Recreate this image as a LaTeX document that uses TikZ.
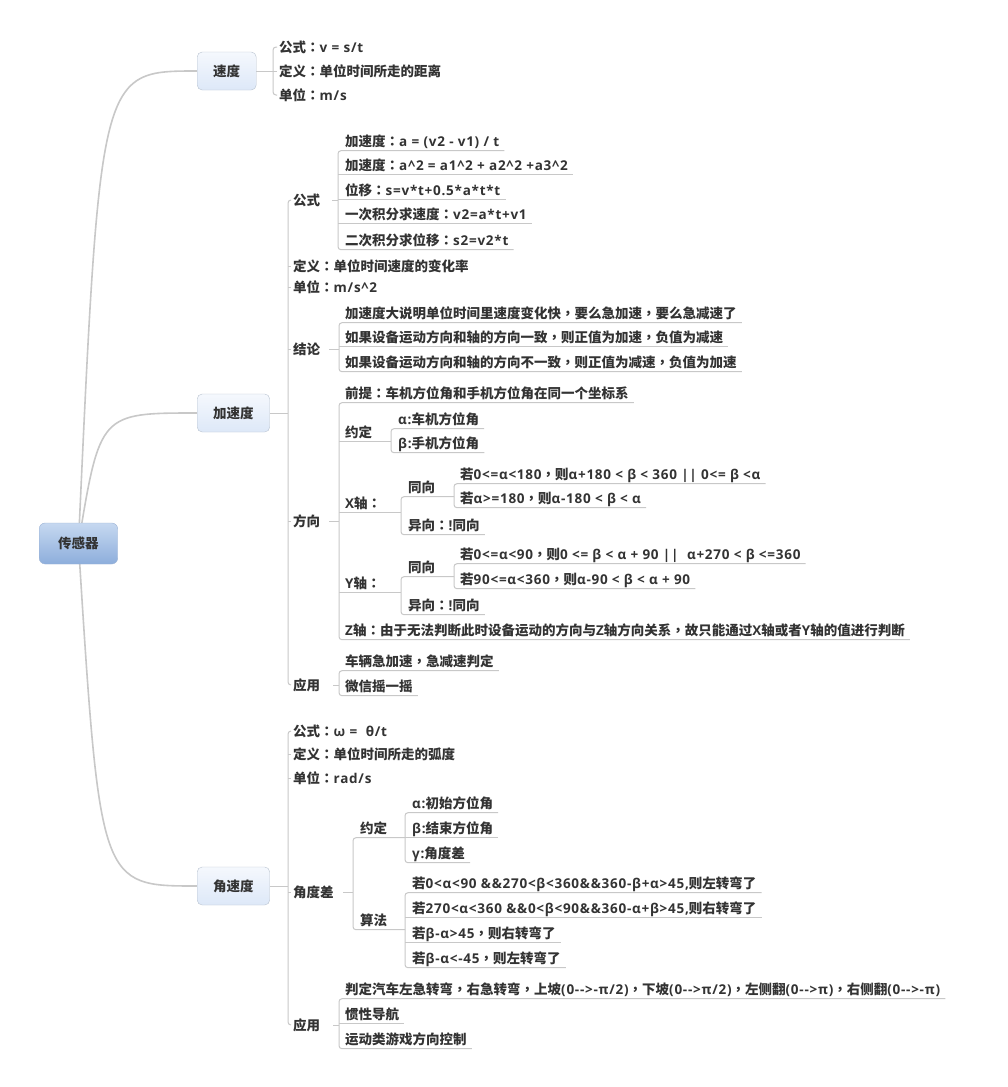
\documentclass[tikz,border=0pt]{standalone}
\usepackage{fontspec}
\newfontfamily\cjkf{Noto Sans CJK SC}
\newfontfamily\puncf{Noto Sans CJK TC}
\newfontfamily\latf[LetterSpace=5.5]{Open Sans}
\XeTeXinterchartokenstate=1
\newXeTeXintercharclass\puncclass
\newXeTeXintercharclass\hanclass
\newcount\hancnt
\hancnt="4E00
\loop
  \XeTeXcharclass\hancnt=\hanclass
  \advance\hancnt by 1
\ifnum\hancnt<"A000 \repeat
\XeTeXcharclass"FF1A=\puncclass
\XeTeXcharclass"FF0C=\puncclass
\XeTeXinterchartoks 0 \hanclass = {\cjkf}
\XeTeXinterchartoks 4095 \hanclass = {\cjkf}
\XeTeXinterchartoks \puncclass \hanclass = {\cjkf}
\XeTeXinterchartoks \hanclass 0 = {\latf}
\XeTeXinterchartoks \puncclass 0 = {\latf}
\XeTeXinterchartoks 4095 0 = {\latf}
\XeTeXinterchartoks 0 \puncclass = {\puncf}
\XeTeXinterchartoks \hanclass \puncclass = {\puncf}
\usetikzlibrary{calc,backgrounds}
\definecolor{txtc}{HTML}{333333}
\definecolor{linec}{HTML}{C8C8C8}
\definecolor{rootborder}{HTML}{9DB4D6}
\definecolor{roottop}{HTML}{C6D8F0}
\definecolor{rootbot}{HTML}{8DAEDC}
\definecolor{topborder}{HTML}{B9C3D0}
\definecolor{toptop}{HTML}{F5F8FD}
\definecolor{topbot}{HTML}{DDE8F8}
\begin{document}
\begin{tikzpicture}[x=1pt,y=-1pt,
  mfont/.style={font=\latf\bfseries\fontsize{13.5}{16}\selectfont},
  conn/.style={draw=linec, line width=1pt},
  bconn/.style={conn, rounded corners=3pt},
  maincurve/.style={draw=linec, line width=1.6pt},
  txt/.style={mfont, anchor=west, inner xsep=0pt, inner ysep=1.5pt, text height=13pt, text depth=3pt, text=txtc},
  rootbox/.style={mfont, anchor=west, rounded corners=6pt, draw=rootborder, top color=roottop, bottom color=rootbot, inner xsep=19pt, minimum height=41pt, text height=13pt, text depth=3pt, text=txtc},
  topicbox/.style={mfont, anchor=west, rounded corners=5pt, draw=topborder, top color=toptop, bottom color=topbot, inner xsep=16pt, minimum height=38pt, text height=13pt, text depth=3pt, text=txtc}
]
\useasboundingbox (0,0) rectangle (1007,1087);

% bracket x positions
\coordinate (B1) at (273,0);
\coordinate (B2) at (288,0);
\coordinate (B3) at (338,0);
\coordinate (B4) at (339,0);
\coordinate (B5) at (391,0);
\coordinate (B6) at (401,0);
\coordinate (B7) at (454,0);
\coordinate (B8) at (353,0);
\coordinate (B9) at (405,0);

% main topics
\node[rootbox] (root) at (39,543.5) {传感器};
\node[topicbox] (s1) at (197,71) {速度};
\node[topicbox] (s2) at (197,413) {加速度};
\node[topicbox] (s3) at (197,886) {角速度};

% 速度
\node[txt] (a1) at (279,47) {公式：v = s/t};
\node[txt] (a2) at (279,71) {定义：单位时间所走的距离};
\node[txt] (a3) at (279,95) {单位：m/s};

% 加速度
\node[txt] (b1) at (293,200) {公式};
\node[txt] (b2) at (293,266) {定义：单位时间速度的变化率};
\node[txt] (b3) at (293,287) {单位：m/s\textasciicircum 2};
\node[txt] (b4) at (293,349) {结论};
\node[txt] (b5) at (293,521) {方向};
\node[txt] (b6) at (293,685) {应用};

\node[txt] (f1) at (345,141) {加速度：a = (v2 - v1) / t};
\node[txt] (f2) at (345,165) {加速度：a\textasciicircum 2 = a1\textasciicircum 2 + a2\textasciicircum 2 +a3\textasciicircum 2};
\node[txt] (f3) at (345,190) {位移：s=v*t+0.5*a*t*t};
\node[txt] (f4) at (345,214) {一次积分求速度：v2=a*t+v1};
\node[txt] (f5) at (345,240) {二次积分求位移：s2=v2*t};

\node[txt] (g1) at (345,313) {加速度大说明单位时间里速度变化快，要么急加速，要么急减速了};
\node[txt] (g2) at (345,337) {如果设备运动方向和轴的方向一致，则正值为加速，负值为减速};
\node[txt] (g3) at (345,362) {如果设备运动方向和轴的方向不一致，则正值为减速，负值为加速};

\node[txt] (h1) at (345,393) {前提：车机方位角和手机方位角在同一个坐标系};
\node[txt] (h2) at (345,432) {约定};
\node[txt] (h3) at (345,503) {X轴：};
\node[txt] (h4) at (345,583) {Y轴：};
\node[txt] (h5) at (345,630) {Z轴：由于无法判断此时设备运动的方向与Z轴方向关系，故只能通过X轴或者Y轴的值进行判断};

\node[txt] (i1) at (398,419) {α:车机方位角};
\node[txt] (i2) at (398,443) {β:手机方位角};

\node[txt] (j1) at (408,487) {同向};
\node[txt] (j2) at (408,525) {异向：!同向};
\node[txt] (k1) at (460,474) {若0<=α<180，则α+180 < β < 360 || 0<= β <α};
\node[txt] (k2) at (460,498) {若α>=180，则α-180 < β < α};

\node[txt] (j3) at (408,567) {同向};
\node[txt] (j4) at (408,605) {异向：!同向};
\node[txt] (k3) at (460,554) {若0<=α<90，则0 <= β < α + 90 || \ α+270 < β <=360};
\node[txt] (k4) at (460,579) {若90<=α<360，则α-90 < β < α + 90};

\node[txt] (l1) at (345,661) {车辆急加速，急减速判定};
\node[txt] (l2) at (345,686) {微信摇一摇};

% 角速度
\node[txt] (c1) at (293,731) {公式：ω = \ θ/t};
\node[txt] (c2) at (293,754) {定义：单位时间所走的弧度};
\node[txt] (c3) at (293,778) {单位：rad/s};
\node[txt] (c4) at (293,892) {角度差};
\node[txt] (c5) at (293,1025) {应用};

\node[txt] (m1) at (360,828) {约定};
\node[txt] (m2) at (360,920) {算法};
\node[txt] (n1) at (412,803) {α:初始方位角};
\node[txt] (n2) at (412,828) {β:结束方位角};
\node[txt] (n3) at (412,853) {γ:角度差};
\node[txt] (n4) at (412,883) {若0<α<90 \&\&270<β<360\&\&360-β+α>45,则左转弯了};
\node[txt] (n5) at (412,908) {若270<α<360 \&\&0<β<90\&\&360-α+β>45,则右转弯了};
\node[txt] (n6) at (412,933) {若β-α>45，则右转弯了};
\node[txt] (n7) at (412,958) {若β-α<-45，则左转弯了};

\node[txt] (o1) at (345,989) {判定汽车左急转弯，右急转弯，上坡(0-->-π/2)，下坡(0-->π/2)，左侧翻(0-->π)，右侧翻(0-->-π)};
\node[txt] (o2) at (345,1014) {惯性导航};
\node[txt] (o3) at (345,1039) {运动类游戏方向控制};

\begin{pgfonlayer}{background}
\fill[white] (0,0) rectangle (1007,1087);
% root curves
\draw[maincurve] (root.center) .. controls (100,71) .. (s1.west);
\draw[maincurve] (root.center) .. controls (100,413) .. (s2.west);
\draw[maincurve] (root.center) .. controls (100,886) .. (s3.west);

% 速度 level 2
\draw[conn] (s1.east) -- (s1.east -| B1);
\draw[bconn] ([xshift=-2pt]a1.west) -- (a1.west -| B1) -- (a3.west -| B1) -- ([xshift=-2pt]a3.west);
\draw[conn] (a2.west -| B1) -- ([xshift=-2pt]a2.west);

% 加速度 level 2
\draw[conn] (s2.east) -- (s2.east -| B2);
\draw[bconn] ([xshift=-2pt]b1.west) -- (b1.west -| B2) -- (b6.west -| B2) -- ([xshift=-2pt]b6.west);
\foreach \nd in {b2,b3,b4,b5} \draw[conn] (\nd.west -| B2) -- ([xshift=-2pt]\nd.west);

% 公式
\draw[conn] ($(b1.east -| B3)+(-6,0)$) -- (b1.east -| B3);
\draw[bconn] ([xshift=5pt]f1.south east) -- (f1.south west -| B3) -- (f5.south west -| B3) -- ([xshift=5pt]f5.south east);
\foreach \nd in {f2,f3,f4} \draw[conn] (\nd.south west -| B3) -- ([xshift=5pt]\nd.south east);

% 结论
\draw[conn] ($(b4.east -| B4)+(-10,0)$) -- (b4.east -| B4);
\draw[bconn] ([xshift=5pt]g1.south east) -- (g1.south west -| B4) -- (g3.south west -| B4) -- ([xshift=5pt]g3.south east);
\draw[conn] (g2.south west -| B4) -- ([xshift=5pt]g2.south east);

% 方向
\draw[conn] ($(b5.east -| B4)+(-10,0)$) -- (b5.east -| B4);
\draw[bconn] ([xshift=5pt]h1.south east) -- (h1.south west -| B4) -- (h5.south west -| B4) -- ([xshift=5pt]h5.south east);
\draw[conn] (h2.south west -| B4) -- (h2.south west -| B5);
\draw[conn] (h3.south west -| B4) -- (h3.south west -| B6);
\draw[conn] (h4.south west -| B4) -- (h4.south west -| B6);

\draw[bconn] ([xshift=5pt]i1.south east) -- (i1.south west -| B5) -- (i2.south west -| B5) -- ([xshift=5pt]i2.south east);

\draw[bconn] (j1.south west -| B7) -- (j1.south west -| B6) -- (j2.south west -| B6) -- ([xshift=5pt]j2.south east);
\draw[bconn] ([xshift=5pt]k1.south east) -- (k1.south west -| B7) -- (k2.south west -| B7) -- ([xshift=5pt]k2.south east);

\draw[bconn] (j3.south west -| B7) -- (j3.south west -| B6) -- (j4.south west -| B6) -- ([xshift=5pt]j4.south east);
\draw[bconn] ([xshift=5pt]k3.south east) -- (k3.south west -| B7) -- (k4.south west -| B7) -- ([xshift=5pt]k4.south east);

% 应用
\draw[conn] ($(b6.east -| B4)+(-6,0)$) -- (b6.east -| B4);
\draw[bconn] ([xshift=5pt]l1.south east) -- (l1.south west -| B4) -- (l2.south west -| B4) -- ([xshift=5pt]l2.south east);

% 角速度 level 2
\draw[conn] (s3.east) -- (s3.east -| B2);
\draw[bconn] ([xshift=-2pt]c1.west) -- (c1.west -| B2) -- (c5.west -| B2) -- ([xshift=-2pt]c5.west);
\foreach \nd in {c2,c3,c4} \draw[conn] (\nd.west -| B2) -- ([xshift=-2pt]\nd.west);

% 角度差
\draw[conn] ($(c4.east -| B8)+(-10,0)$) -- (c4.east -| B8);
\draw[bconn] (m1.south west -| B9) -- (m1.south west -| B8) -- (m2.south west -| B8) -- (m2.south west -| B9);
\draw[bconn] ([xshift=5pt]n1.south east) -- (n1.south west -| B9) -- (n3.south west -| B9) -- ([xshift=5pt]n3.south east);
\draw[conn] (n2.south west -| B9) -- ([xshift=5pt]n2.south east);
\draw[bconn] ([xshift=5pt]n4.south east) -- (n4.south west -| B9) -- (n7.south west -| B9) -- ([xshift=5pt]n7.south east);
\foreach \nd in {n5,n6} \draw[conn] (\nd.south west -| B9) -- ([xshift=5pt]\nd.south east);

% 应用
\draw[conn] ($(c5.east -| B4)+(-6,0)$) -- (c5.east -| B4);
\draw[bconn] ([xshift=5pt]o1.south east) -- (o1.south west -| B4) -- (o3.south west -| B4) -- ([xshift=5pt]o3.south east);
\draw[conn] (o2.south west -| B4) -- ([xshift=5pt]o2.south east);
\end{pgfonlayer}
\end{tikzpicture}
\end{document}
